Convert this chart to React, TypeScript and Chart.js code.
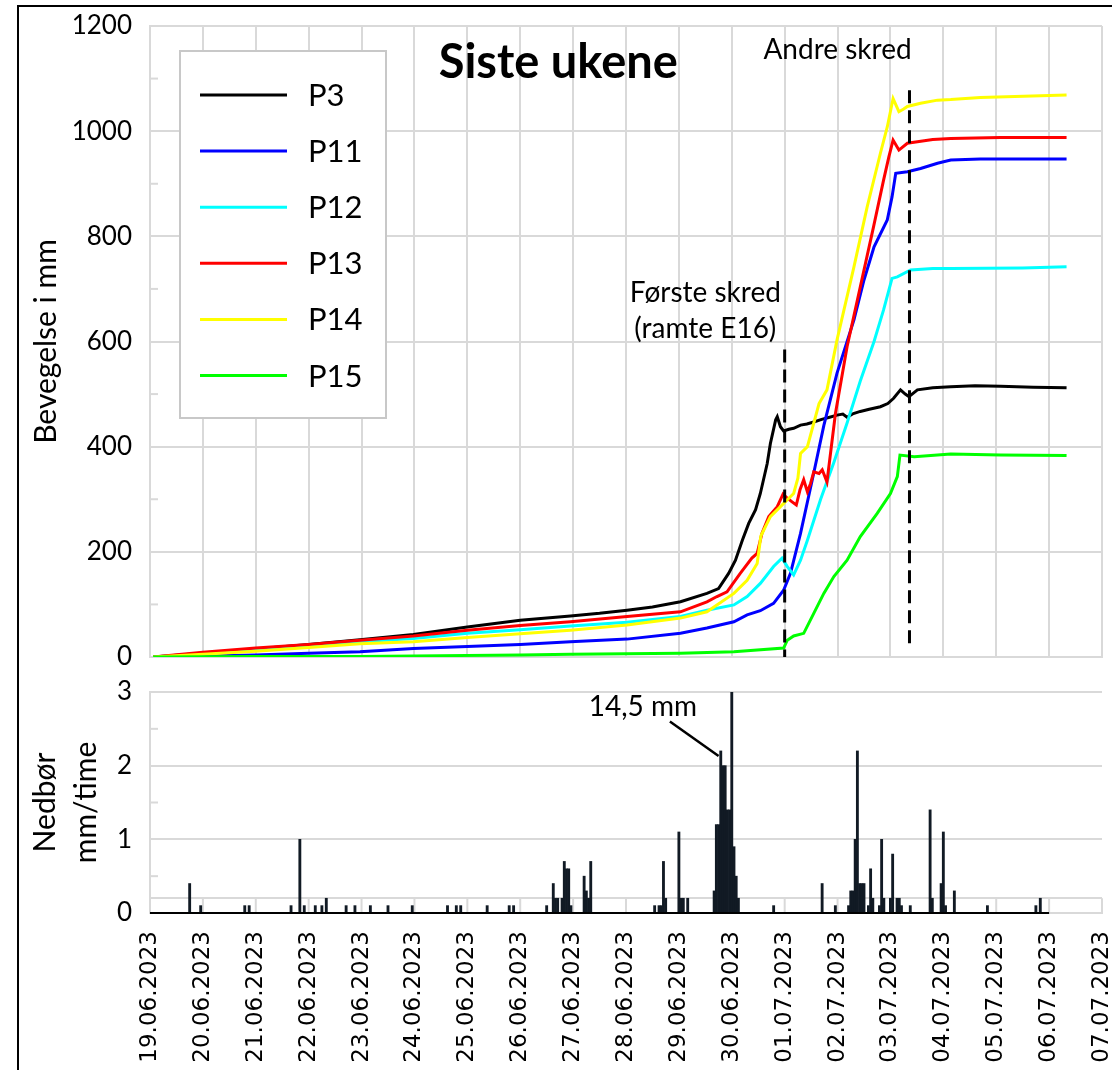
import { useEffect, useRef } from "react";
import { Chart, registerables } from "chart.js";

Chart.register(...registerables);

// ---------- data ----------
const dateLabels = [
  "19.06.2023", "20.06.2023", "21.06.2023", "22.06.2023", "23.06.2023", "24.06.2023",
  "25.06.2023", "26.06.2023", "27.06.2023", "28.06.2023", "29.06.2023", "30.06.2023",
  "01.07.2023", "02.07.2023", "03.07.2023", "04.07.2023", "05.07.2023", "06.07.2023",
  "07.07.2023",
];

const seriesNames = ["P3", "P11", "P12", "P13", "P14", "P15"];
const seriesColors = ["#000000", "#0000ff", "#00ffff", "#ff0000", "#ffff00", "#00ff00"];

// [days since 19.06.2023 00:00, movement in mm]
const P3: [number, number][] = [
  [0.06, 0], [1, 7], [2, 15], [3, 24], [3.97, 33], [4.98, 43], [6, 57], [7, 70], [7.95, 78],
  [8.5, 83], [9.02, 89], [9.5, 95], [10.03, 105], [10.53, 121], [10.75, 130], [10.94, 159],
  [11.07, 184], [11.2, 222], [11.32, 254], [11.45, 280], [11.54, 311], [11.67, 368],
  [11.73, 406], [11.83, 451], [11.86, 457], [11.92, 438], [11.98, 430], [12.08, 433],
  [12.17, 435], [12.3, 441], [12.42, 443], [12.55, 447], [12.7, 452], [12.85, 456],
  [12.99, 460], [13.1, 462], [13.18, 456], [13.3, 463], [13.43, 467], [13.6, 471],
  [13.81, 476], [13.95, 482], [14.06, 492], [14.19, 508], [14.28, 500], [14.35, 495],
  [14.51, 508], [14.8, 512], [15.14, 514], [15.6, 516], [16.08, 515], [16.7, 513], [17.33, 512],
];
const P11: [number, number][] = [
  [0.06, 0], [1, 2], [2, 4], [3, 7], [3.97, 10], [4.98, 16], [6, 20], [7, 24], [7.95, 29],
  [9.02, 34], [10.03, 45], [10.53, 55], [11.04, 67], [11.29, 80], [11.54, 88], [11.79, 102],
  [11.98, 127], [12.11, 159], [12.3, 235], [12.55, 350], [12.74, 440], [12.99, 540],
  [13.31, 641], [13.5, 717], [13.69, 780], [13.94, 831], [14.03, 875], [14.1, 920],
  [14.32, 923], [14.57, 929], [14.89, 939], [15.14, 945], [15.7, 947], [17.33, 947],
];
const P12: [number, number][] = [
  [0.06, 0], [1, 6], [2, 13], [3, 21], [3.97, 29], [4.98, 35], [6, 45], [7, 52], [7.95, 59],
  [9.02, 66], [10.03, 77], [10.53, 89], [11.04, 99], [11.29, 115], [11.54, 140], [11.79, 172],
  [11.95, 188], [12.05, 172], [12.17, 156], [12.3, 184], [12.43, 222], [12.68, 300],
  [12.93, 370], [13.18, 445], [13.43, 525], [13.69, 600], [13.87, 660], [14.03, 720],
  [14.13, 723], [14.38, 736], [14.8, 739], [15.14, 739], [16.5, 740], [17.33, 742],
];
const P13: [number, number][] = [
  [0.06, 0], [1, 9], [2, 17], [3, 24], [3.97, 32], [4.98, 40], [6, 51], [7, 60], [7.95, 67],
  [9.02, 77], [10.03, 86], [10.53, 105], [10.72, 115], [10.91, 124], [11.16, 159],
  [11.38, 188], [11.48, 197], [11.57, 235], [11.7, 267], [11.86, 286], [11.97, 310],
  [12.05, 302], [12.14, 295], [12.22, 289], [12.29, 318], [12.36, 337], [12.43, 314],
  [12.49, 330], [12.55, 352], [12.65, 349], [12.71, 356], [12.8, 333], [12.96, 463],
  [13.18, 590], [13.43, 704], [13.68, 818], [13.87, 907], [13.97, 951], [14.05, 983],
  [14.16, 964], [14.32, 977], [14.51, 980], [14.8, 984], [15.14, 986], [16.08, 988], [17.33, 988],
];
const P14: [number, number][] = [
  [0.06, 0], [1, 5], [2, 11], [3, 18], [3.97, 25], [4.98, 29], [6, 37], [7, 44], [7.95, 51],
  [9.02, 61], [10.03, 74], [10.53, 86], [11.04, 121], [11.29, 146], [11.48, 178], [11.55, 230],
  [11.73, 267], [11.92, 286], [12.05, 299], [12.17, 311], [12.25, 340], [12.3, 387],
  [12.43, 400], [12.65, 482], [12.8, 508], [12.99, 603], [13.31, 742], [13.56, 856],
  [13.81, 958], [13.94, 1008], [14.05, 1062], [14.16, 1037], [14.25, 1042], [14.32, 1047],
  [14.57, 1053], [14.89, 1059], [15.14, 1060], [15.7, 1064], [17.33, 1069],
];
const P15: [number, number][] = [
  [0.06, 0], [2, 1], [3.97, 1], [7, 4], [7.95, 5], [10.03, 7], [11.04, 10], [11.29, 12],
  [11.98, 17], [12.05, 32], [12.17, 40], [12.36, 45], [12.55, 83], [12.74, 121], [12.93, 153],
  [13.18, 184], [13.43, 229], [13.75, 273], [14.0, 311], [14.13, 343], [14.18, 384],
  [14.45, 381], [15.14, 386], [16.08, 384], [17.33, 383],
];

// hourly precipitation: hour since 19.06.2023 00:00 and mm/hour
const precipHours = [
  18, 23, 43, 45, 64, 68, 70, 75, 78, 80, 89, 93, 100, 108, 119, 135, 139, 141, 153, 163, 165,
  180, 183, 184, 185, 187, 188, 189, 190, 191, 197, 198, 199, 200, 229, 231, 232, 233, 234,
  240, 241, 242, 244, 256, 257, 258, 259, 260, 261, 262, 263, 264, 265, 266, 267, 283, 305,
  311, 317, 318, 319, 320, 321, 322, 323, 324, 326, 327, 328, 331, 332, 333, 336, 337, 339,
  340, 341, 345, 354, 355, 359, 360, 361, 365, 380, 402, 404,
];
const precipMm = [
  0.4, 0.1, 0.1, 0.1, 0.1, 1.0, 0.1, 0.1, 0.1, 0.2, 0.1, 0.1, 0.1, 0.1, 0.1, 0.1, 0.1, 0.1, 0.1, 0.1, 0.1,
  0.1, 0.4, 0.2, 0.2, 0.2, 0.7, 0.6, 0.6, 0.1, 0.5, 0.3, 0.2, 0.7, 0.1, 0.1, 0.1, 0.7, 0.2,
  1.1, 0.2, 0.2, 0.2, 0.3, 1.2, 1.2, 2.2, 2.0, 2.0, 1.4, 1.4, 14.5, 0.9, 0.5, 0.2, 0.1, 0.4,
  0.1, 0.1, 0.3, 0.3, 1.0, 2.2, 0.4, 0.4, 0.4, 0.1, 0.6, 0.2, 0.1, 1.0, 0.2, 0.2, 0.8, 0.2,
  0.2, 0.1, 0.1, 1.4, 0.2, 0.4, 1.1, 0.1, 0.3, 0.1, 0.1, 0.2,
];

const moveTicks = [0, 200, 400, 600, 800, 1000, 1200];
const moveMinorTicks = [100, 300, 500, 700, 900, 1100];
const rainTicks = [0, 1, 2, 3];
const rainBandTop = 0.2;
const rainMinorTicks = [0.5, 1.5, 2.5];
const rainAxisEndDay = 17;

// slide markers (day, top mm, bottom mm)
const slideDays = [12.0, 14.36];
const slideTops = [585, 1078];
const slideBottoms = [0, 26];

// texts
const titleText = "Siste ukene";
const titlePos = [7.72, 1130];
const moveAxisTitle = "Bevegelse i mm";
const rainAxisTitle = ["Nedbør", "mm/time"];
const slideTexts = ["Første skred", "(ramte E16)", "Andre skred"];
const slideTextPos: [number, number][] = [[10.5, 692], [10.5, 624], [13.0, 1154]];
const peakText = "14,5 mm";
const peakTextPos = [9.32, 2.8];
const peakLeader: [number, number][] = [[9.83, 2.6], [10.75, 2.13]];

// ---------- helpers ----------
const GRID = "#d9d9d9";
const FONT = "Lato";

function drawText(ctx: CanvasRenderingContext2D, s: string, x: number, y: number, font: string, align: CanvasTextAlign = "center") {
  ctx.save();
  ctx.font = font;
  ctx.fillStyle = "#000";
  ctx.textAlign = align;
  ctx.textBaseline = "middle";
  ctx.fillText(s, x, y);
  ctx.restore();
}

export default function App() {
  const topRef = useRef<HTMLCanvasElement>(null);
  const botRef = useRef<HTMLCanvasElement>(null);

  useEffect(() => {
    document.body.style.margin = "0";
    const series = [P3, P11, P12, P13, P14, P15];
    const xMax = dateLabels.length - 1;

    const lineSets: any[] = series.map((s, i) => ({
      type: "line",
      label: seriesNames[i],
      data: s.map(([x, y]) => ({ x, y })),
      borderColor: seriesColors[i],
      backgroundColor: seriesColors[i],
      borderWidth: 3,
      pointRadius: 0,
      tension: 0,
      fill: false,
      order: 10 - i,
    }));
    const dashSets: any[] = slideDays.map((d, i) => ({
      type: "line",
      label: "skred" + i,
      data: [{ x: d, y: slideTops[i] }, { x: d, y: slideBottoms[i] }],
      borderColor: "#000",
      borderWidth: 3,
      borderDash: [13, 7],
      pointRadius: 0,
      fill: false,
      order: 0,
    }));

    const upperPlugin = {
      id: "upperDecor",
      beforeDatasetsDraw(chart: any) {
        const { ctx, chartArea: ca, scales } = chart;
        ctx.save();
        ctx.strokeStyle = GRID;
        ctx.lineWidth = 2;
        for (const v of moveMinorTicks) {
          const y = scales.y.getPixelForValue(v);
          ctx.beginPath();
          ctx.moveTo(ca.left, y);
          ctx.lineTo(ca.left + 8, y);
          ctx.stroke();
        }
        ctx.restore();
      },
      afterDatasetsDraw(chart: any) {
        const { ctx, chartArea: ca, scales } = chart;
        const xs = scales.x, ys = scales.y;
        drawText(ctx, titleText, xs.getPixelForValue(titlePos[0]), ys.getPixelForValue(titlePos[1]), `bold 47px ${FONT}`);
        slideTexts.forEach((t, i) => {
          drawText(ctx, t, xs.getPixelForValue(slideTextPos[i][0]), ys.getPixelForValue(slideTextPos[i][1]), `28px ${FONT}`);
        });
        // legend
        const lx = ca.left + 30, ly = ca.top + 25, lw = 206, lh = 367;
        ctx.save();
        ctx.fillStyle = "#fff";
        ctx.fillRect(lx, ly, lw, lh);
        ctx.strokeStyle = "#c8c8c8";
        ctx.lineWidth = 2;
        ctx.strokeRect(lx, ly, lw, lh);
        seriesNames.forEach((n, i) => {
          const y = ly + 44 + i * 56.1;
          ctx.strokeStyle = seriesColors[i];
          ctx.lineWidth = 3;
          ctx.beginPath();
          ctx.moveTo(lx + 20, y);
          ctx.lineTo(lx + 107, y);
          ctx.stroke();
          drawText(ctx, n, lx + 128, y + 1, `31px ${FONT}`, "left");
        });
        ctx.restore();
      },
    };

    const top = new Chart(topRef.current as HTMLCanvasElement, {
      type: "line",
      data: { datasets: [...lineSets, ...dashSets] },
      options: {
        responsive: false,
        animation: false,
        layout: { padding: { top: 26, right: 10, bottom: 23, left: 0 } },
        plugins: { legend: { display: false }, tooltip: { enabled: false } },
        scales: {
          x: {
            type: "linear",
            min: 0,
            max: xMax,
            ticks: { display: false, stepSize: 1 },
            grid: { color: GRID, lineWidth: 2, drawTicks: false },
            border: { color: GRID, width: 2 },
            afterFit: (s: any) => { s.height = 0; s.paddingLeft = 0; s.paddingRight = 0; },
          },
          y: {
            min: 0,
            max: 1200,
            afterBuildTicks: (s: any) => { s.ticks = moveTicks.map((v) => ({ value: v })); },
            ticks: {
              color: "#000",
              font: { family: FONT, size: 26 },
              padding: 18,
              callback: (v: any) => String(v),
            },
            grid: { color: GRID, lineWidth: 2, drawTicks: false },
            border: { color: GRID, width: 2 },
            title: {
              display: true,
              text: moveAxisTitle,
              color: "#000",
              font: { family: FONT, size: 30 },
              padding: { top: 28, bottom: 0 },
            },
            afterFit: (s: any) => { s.width = 150; s.paddingTop = 0; s.paddingBottom = 0; },
          },
        },
      } as any,
      plugins: [upperPlugin],
    } as any);

    const lowerPlugin = {
      id: "lowerDecor",
      beforeDatasetsDraw(chart: any) {
        const { ctx, chartArea: ca, scales } = chart;
        const xs = scales.x, ys = scales.y;
        ctx.save();
        ctx.strokeStyle = GRID;
        ctx.lineWidth = 2;
        const yTop = ys.getPixelForValue(rainBandTop);
        const yBot = ys.getPixelForValue(0);
        for (let d = 0; d <= xMax; d++) {
          const x = xs.getPixelForValue(d);
          ctx.beginPath();
          ctx.moveTo(x, yTop);
          ctx.lineTo(x, yBot);
          ctx.stroke();
        }
        for (const v of rainMinorTicks) {
          const y = ys.getPixelForValue(v);
          ctx.beginPath();
          ctx.moveTo(ca.left, y);
          ctx.lineTo(ca.left + 8, y);
          ctx.stroke();
        }
        ctx.restore();
      },
      afterDatasetsDraw(chart: any) {
        const { ctx, scales } = chart;
        const xs = scales.x, ys = scales.y;
        ctx.save();
        ctx.strokeStyle = "#000";
        ctx.lineWidth = 2;
        const y0 = ys.getPixelForValue(0);
        ctx.beginPath();
        ctx.moveTo(xs.getPixelForValue(0), y0);
        ctx.lineTo(xs.getPixelForValue(rainAxisEndDay), y0);
        ctx.stroke();
        ctx.restore();
        drawText(ctx, peakText, xs.getPixelForValue(peakTextPos[0]), ys.getPixelForValue(peakTextPos[1]), `28px ${FONT}`);
      },
    };

    const bottom = new Chart(botRef.current as HTMLCanvasElement, {
      type: "bar",
      data: {
        datasets: [
          {
            type: "bar",
            label: "Nedbør",
            data: precipHours.map((h, i) => ({ x: h / 24, y: precipMm[i] })),
            backgroundColor: "#111a24",
            borderWidth: 0,
            barThickness: 2.2,
            order: 1,
          },
          {
            type: "line",
            label: "leader",
            data: peakLeader.map(([x, y]) => ({ x, y })),
            borderColor: "#000",
            borderWidth: 2.5,
            pointRadius: 0,
            fill: false,
            order: 0,
          },
        ],
      },
      options: {
        responsive: false,
        animation: false,
        layout: { padding: { top: 22, right: 10, bottom: 0, left: 0 } },
        plugins: { legend: { display: false }, tooltip: { enabled: false } },
        scales: {
          x: {
            type: "linear",
            min: 0,
            max: xMax,
            offset: false,
            grid: { display: false, offset: false, drawTicks: false },
            border: { color: GRID, width: 2 },
            ticks: {
              stepSize: 1,
              autoSkip: false,
              minRotation: 90,
              maxRotation: 90,
              padding: 18,
              color: "#000",
              font: { family: "DejaVu Sans", size: 23 },
              callback: (v: any) => dateLabels[Math.round(v)] ?? "",
            },
            afterFit: (s: any) => { s.height = 157; s.paddingLeft = 0; s.paddingRight = 0; },
          },
          y: {
            min: 0,
            max: 3,
            afterBuildTicks: (s: any) => {
              s.ticks = [rainTicks[0], rainBandTop, ...rainTicks.slice(1)].map((v) => ({ value: v }));
            },
            ticks: {
              color: "#000",
              font: { family: FONT, size: 26 },
              padding: 18,
              callback: (v: any) => (rainTicks.includes(v) ? String(v) : ""),
            },
            grid: { color: GRID, lineWidth: 2, drawTicks: false },
            border: { color: GRID, width: 2 },
            title: {
              display: true,
              text: rainAxisTitle,
              color: "#000",
              font: { family: FONT, size: 30, lineHeight: 1.37 },
              padding: { top: 25, bottom: 0 },
            },
            afterFit: (s: any) => { s.width = 150; s.paddingTop = 0; s.paddingBottom = 0; },
          },
        },
      } as any,
      plugins: [lowerPlugin],
    } as any);

    return () => {
      top.destroy();
      bottom.destroy();
    };
  }, []);

  return (
    <div style={{ position: "relative", width: 1112, height: 1070, overflow: "hidden", background: "#fff" }}>
      <div
        style={{
          position: "absolute",
          left: 17,
          top: 5,
          width: 1200,
          height: 1200,
          borderTop: "2px solid #000",
          borderLeft: "2px solid #000",
        }}
      />
      <canvas ref={topRef} width={1112} height={680} style={{ position: "absolute", left: 0, top: 0, display: "block" }} />
      <canvas ref={botRef} width={1112} height={400} style={{ position: "absolute", left: 0, top: 670, display: "block" }} />
    </div>
  );
}
